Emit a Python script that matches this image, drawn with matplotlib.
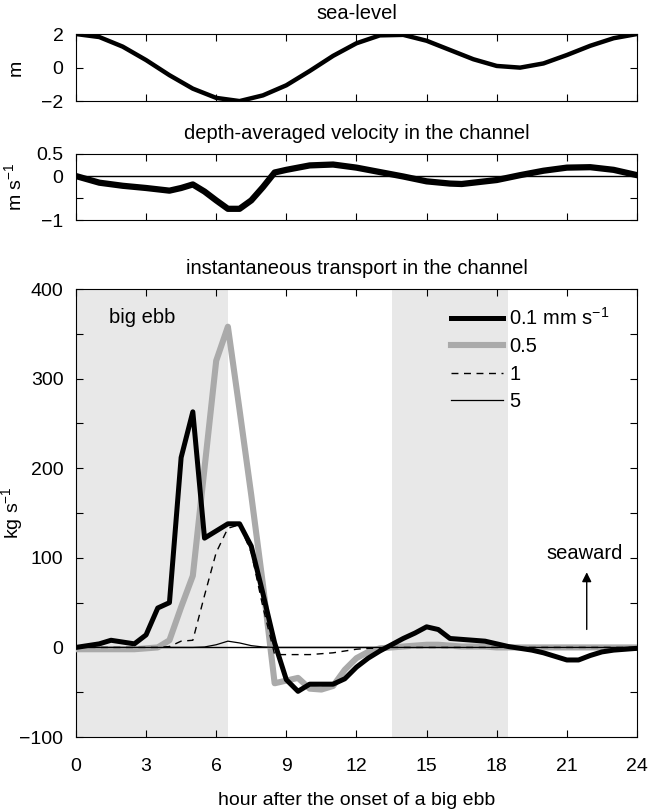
import matplotlib
matplotlib.use('Agg')
import matplotlib.pyplot as plt

plt.rcParams['font.family'] = ['Liberation Sans', 'DejaVu Sans']
plt.rcParams['mathtext.fontset'] = 'custom'
plt.rcParams['mathtext.rm'] = 'Liberation Sans'
plt.rcParams['mathtext.default'] = 'regular'
plt.rcParams['font.size'] = 14

# sea level (m), hourly
hours = list(range(25))
sea_level = [2.0, 1.82, 1.25, 0.45, -0.45, -1.25, -1.8, -1.99, -1.65, -1.05, -0.2,
             0.7, 1.45, 1.92, 1.95, 1.6, 1.05, 0.5, 0.1, 0.0, 0.25, 0.75, 1.3, 1.75, 2.0]

# depth-averaged velocity (m/s)
vel_t = [0, 1, 2, 3, 4, 4.5, 5, 5.5, 6, 6.5, 7, 7.5, 8, 8.5, 9, 10, 11, 12, 13, 14,
         15, 16, 16.5, 17, 18, 19, 20, 21, 22, 23, 24]
velocity = [0.0, -0.15, -0.22, -0.27, -0.33, -0.27, -0.19, -0.35, -0.55, -0.74, -0.74,
            -0.55, -0.25, 0.08, 0.14, 0.24, 0.26, 0.19, 0.09, -0.01, -0.12, -0.17,
            -0.18, -0.15, -0.09, 0.02, 0.12, 0.19, 0.2, 0.14, 0.02]

# transport (kg/s), half-hourly
t = [i * 0.5 for i in range(49)]
ws_01 = [0, 2, 4, 8, 6, 4, 14, 44, 50, 212, 263, 122, 130, 138, 138, 113, 60, 5,
         -36, -49, -41, -41, -41, -35, -22, -12, -4, 3, 10, 16, 23, 20, 10, 9, 8, 7,
         4, 1, -1, -3, -6, -10, -14, -14, -9, -5, -3, -2, -1]
ws_05 = [-2, -2, -2, -2, -2, -2, -1, 0, 8, 45, 80, 200, 320, 358, 265, 170, 70, -40,
         -37, -34, -46, -47, -43, -25, -12, -5, -1, 0, 1, 2, 3, 3, 2, 1, 1, 1,
         0, 0, 0, 0, 0, 0, 0, 0, 0, 0, 0, 0, 0]
ws_1 = [0, 0, 0, 0, 0, 0, 0, 0, 1, 7, 8, 58, 106, 133, 137, 106, 45, -8,
        -8, -8, -8, -7, -6, -4, -2, -1, -1, 0, 0, 0, 0, 0, 0, 0, 0, 0,
        0, 0, 0, 0, 0, 0, 0, 0, 0, 0, 0, 0, 0]
ws_5 = [0, 0, 0, 0, 0, 0, 0, 0, 0, 0, 0, 0.5, 3, 7, 5, 2, 0.5, 0,
        0, 0, 0, 0, 0, 0, 0, 0, 0, 0, 0, 0, 0, 0, 0, 0, 0, 0,
        0, 0, 0, 0, 0, 0, 0, 0, 0, 0, 0, 0, 0]

ebb_spans = [(0, 6.5), (13.5, 18.5)]
xticks = [0, 3, 6, 9, 12, 15, 18, 21, 24]

fig = plt.figure(figsize=(6.49, 8.1), dpi=100)
ax1 = fig.add_axes([0.117, 0.875, 0.8645, 0.083])
ax2 = fig.add_axes([0.117, 0.728, 0.8645, 0.082])
ax3 = fig.add_axes([0.117, 0.0901, 0.8645, 0.553])

for ax in (ax1, ax2, ax3):
    ax.set_xlim(0, 24)
    ax.set_xticks(xticks)
    ax.tick_params(which='both', direction='in', top=True, right=True, length=5,
                   width=0.8, labelsize=14)
    ax.tick_params(axis='y', pad=9)
    ax.tick_params(axis='x', pad=15)
    ax.yaxis.set_label_coords(-0.091, 0.5)

# sea level
ax1.plot(hours, sea_level, color='black', lw=3.2)
ax1.set_ylim(-2, 2)
ax1.set_yticks([-2, 0, 2])
ax1.set_xticklabels([])
ax1.set_ylabel('m')
ax1.set_title('sea-level', fontsize=14.5, pad=11)

# velocity
ax2.axhline(0, color='black', lw=1)
ax2.plot(vel_t, velocity, color='black', lw=4.5)
ax2.set_ylim(-1, 0.5)
ax2.set_yticks([-1, -0.5, 0, 0.5])
ax2.set_yticklabels(['\u22121', '', '0', '0.5'])
ax2.set_xticklabels([])
ax2.set_ylabel('m s$^{-1}$')
ax2.set_title('depth-averaged velocity in the channel', fontsize=14.5, pad=11)

# transport
for a, b in ebb_spans:
    ax3.axvspan(a, b, color='#e8e8e8', lw=0, zorder=0)
ax3.axhline(0, color='black', lw=1, zorder=1)
ax3.plot(t, ws_01, color='black', lw=3.6, label='0.1 mm s$^{-1}$', zorder=4)
ax3.plot(t, ws_05, color='#aaaaaa', lw=4.4, label='0.5', zorder=3)
ax3.plot(t, ws_1, color='black', lw=1.0, ls=(0, (5, 4)), label='1', zorder=5)
ax3.plot(t, ws_5, color='black', lw=0.9, label='5', zorder=5)
ax3.set_ylim(-100, 400)
ax3.set_yticks([-100, 0, 100, 200, 300, 400])
ax3.set_yticks([-50, 50, 150, 250, 350], minor=True)
ax3.set_xlabel('hour after the onset of a big ebb', labelpad=12)
ax3.set_ylabel('kg s$^{-1}$')
ax3.set_title('instantaneous transport in the channel', fontsize=14.5, pad=11)
ax3.text(1.4, 368, 'big ebb', ha='left', va='center', fontsize=14.5)
ax3.annotate('', xy=(21.85, 87), xytext=(21.85, 17),
             arrowprops=dict(arrowstyle='-|>', color='black', lw=1,
                             mutation_scale=14))
ax3.text(21.75, 105, 'seaward', ha='center', va='center', fontsize=14.5)
ax3.legend(loc='upper left', bbox_to_anchor=(0.668, 0.96), frameon=False,
           borderpad=0, borderaxespad=0, handlelength=2.6, handletextpad=0.3,
           labelspacing=0.42, fontsize=14.5)

fig.savefig('out.png', dpi=100)
